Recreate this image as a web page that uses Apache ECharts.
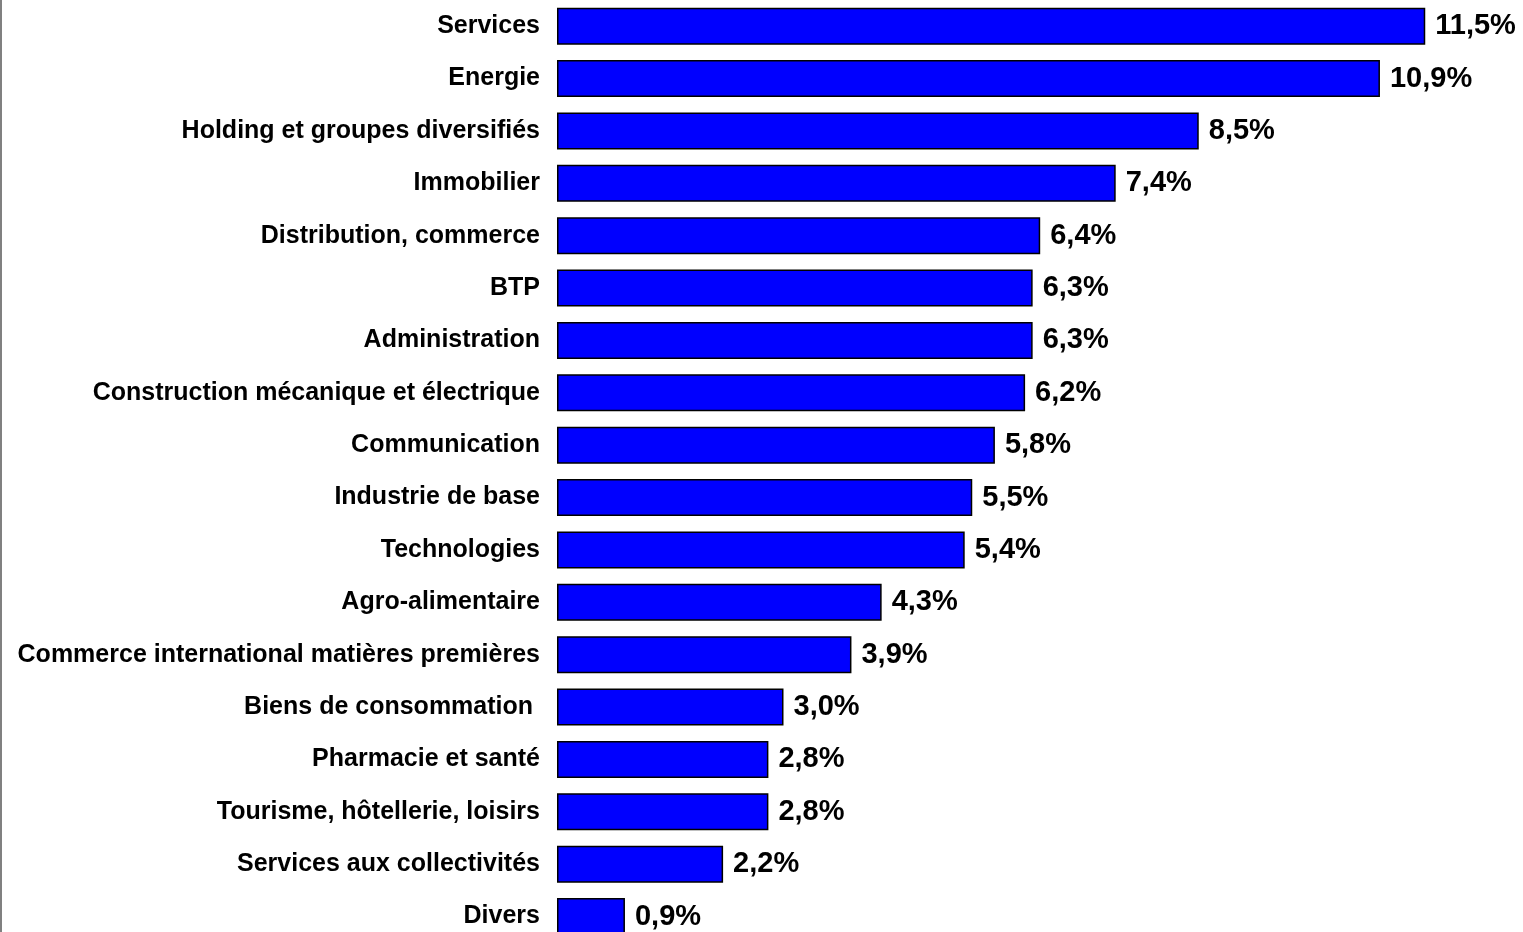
<!DOCTYPE html>
<html>
<head>
<meta charset="utf-8">
<title>Répartition par secteur</title>
<script src="https://cdn.jsdelivr.net/npm/echarts@6/dist/echarts.min.js"></script>
<style>
  html, body { margin: 0; padding: 0; background: #ffffff; overflow: hidden; }
  /* the last row runs past the bottom edge of the window */
  #chart { width: 1523px; height: 950px; }
</style>
</head>
<body>
<div id="chart"></div>
<script>
// Sectors, listed from top to bottom
const sectors = [
  'Services',
  'Energie',
  'Holding et groupes diversifiés',
  'Immobilier',
  'Distribution, commerce',
  'BTP',
  'Administration',
  'Construction mécanique et électrique',
  'Communication',
  'Industrie de base',
  'Technologies',
  'Agro-alimentaire',
  'Commerce international matières premières',
  'Biens de consommation ',
  'Pharmacie et santé',
  'Tourisme, hôtellerie, loisirs',
  'Services aux collectivités',
  'Divers'
];

// Share of each sector, in percent
const shares = [11.5, 10.9, 8.5, 7.4, 6.4, 6.3, 6.3, 6.2, 5.8, 5.5, 5.4, 4.3, 3.9, 3.0, 2.8, 2.8, 2.2, 0.9];

const FONT = '"Liberation Sans", Arial, sans-serif';
const fmtPct = v => v.toFixed(1).replace('.', ',') + '%';

const chart = echarts.init(document.getElementById('chart'), null, { renderer: 'canvas' });

chart.setOption({
  backgroundColor: '#ffffff',
  animation: false,
  grid: { left: 557, top: -0.7, width: 906, height: 943.4, containLabel: false },
  xAxis: {
    type: 'value',
    min: 0,
    max: 12,
    show: false
  },
  yAxis: {
    type: 'category',
    data: sectors,
    inverse: true,
    axisLine: { show: false },
    axisTick: { show: false },
    splitLine: { show: false },
    axisLabel: {
      margin: 17,
      color: '#000000',
      fontFamily: FONT,
      fontWeight: 'bold',
      fontSize: 25
    }
  },
  series: [{
    type: 'bar',
    data: shares,
    barWidth: 37,
    itemStyle: { color: '#0000ff', borderColor: '#000000', borderWidth: 1.5 },
    label: {
      show: true,
      position: 'right',
      distance: 10,
      color: '#000000',
      fontFamily: FONT,
      fontWeight: 'bold',
      fontSize: 29,
      formatter: p => fmtPct(p.value)
    }
  }],
  graphic: [{
    type: 'line',
    shape: { x1: 1, y1: 0, x2: 1, y2: 950 },
    style: { stroke: '#808080', lineWidth: 2 }
  }]
});
</script>
</body>
</html>
